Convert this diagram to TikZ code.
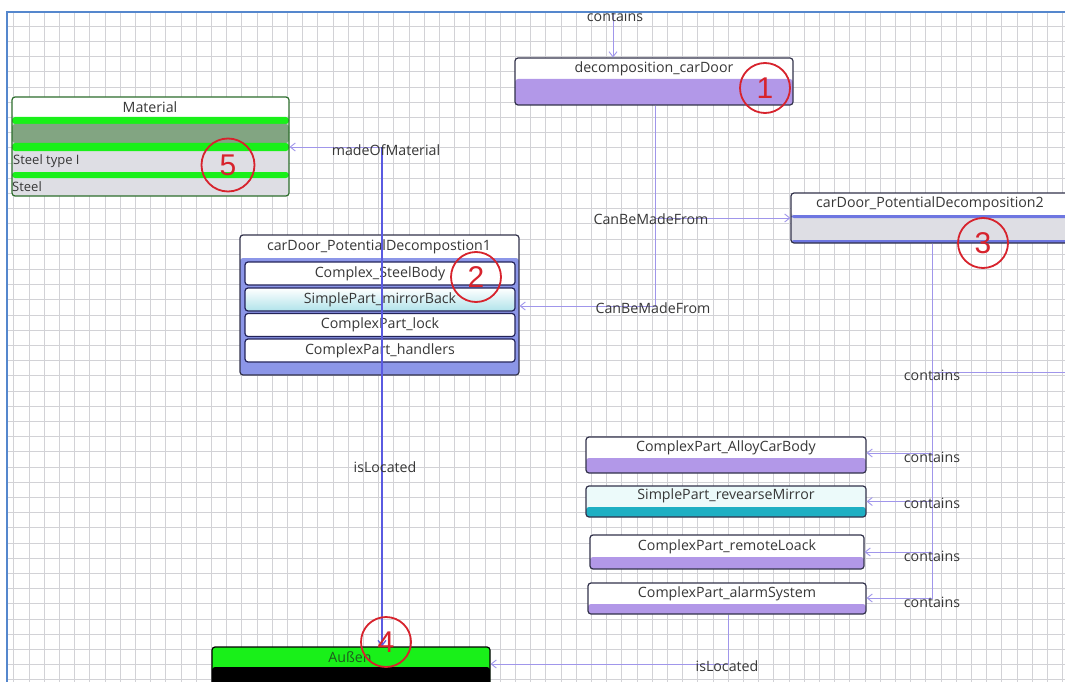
\documentclass[tikz,border=0pt]{standalone}
\usepackage{fontspec}
\setmainfont{Open Sans}
\newfontfamily\digitfont{Liberation Sans}
\usetikzlibrary{arrows.meta}

\definecolor{gridc}{RGB}{210,210,214}
\definecolor{framec}{RGB}{85,135,205}
\definecolor{edgec}{RGB}{160,150,235}
\definecolor{edgedark}{RGB}{90,90,225}
\definecolor{purplefill}{RGB}{178,152,232}
\definecolor{listblue}{RGB}{140,150,232}
\definecolor{stripblue}{RGB}{110,118,225}
\definecolor{greyfill}{RGB}{222,222,228}
\definecolor{brightgreen}{RGB}{25,240,25}
\definecolor{matgrey}{RGB}{130,165,130}
\definecolor{matline}{RGB}{45,110,45}
\definecolor{cyanfill}{RGB}{30,175,195}
\definecolor{cyanlight}{RGB}{236,250,250}
\definecolor{markred}{RGB}{215,35,45}
\definecolor{boxline}{RGB}{50,50,75}
\definecolor{itemline}{RGB}{35,35,90}
\definecolor{textc}{RGB}{55,55,55}
\definecolor{ausText}{RGB}{30,90,30}

\tikzset{
  box/.style={draw=boxline, line width=1.2pt, rounded corners=3pt, inner sep=0pt},
  splitbox/.style n args={2}{box, path picture={
      \fill[#1] (path picture bounding box.south west)
        rectangle ([yshift=#2]path picture bounding box.south east);}},
  item/.style={draw=itemline, line width=1.2pt, rounded corners=3pt, fill=white,
      minimum width=270pt, minimum height=23pt, inner sep=0pt,
      text=textc, font=\fontsize{14.2}{16}\selectfont},
  lbl/.style={inner sep=0pt, text=textc, font=\fontsize{14.2}{16}\selectfont},
  edge/.style={draw=edgec, line width=0.9pt, -{Straight Barb[length=5pt,width=8pt]}},
  edgeplain/.style={draw=edgec, line width=0.9pt},
  edgestrong/.style={draw=edgedark, line width=1.3pt, -{Straight Barb[length=5pt,width=8pt]}},
  redmark/.style={circle, draw=markred, line width=1.8pt, minimum size=50pt,
      inner sep=0pt, text=markred, font=\digitfont\fontsize{30}{30}\selectfont},
}

\begin{document}
\begin{tikzpicture}[x=1pt,y=-1pt]
\fill[white] (0,0) rectangle (1065,682);
\useasboundingbox (0,0) rectangle (1065,682);

\begin{scope}
\clip (7,12) rectangle (1065,682);

% background grid
\foreach \i in {0,...,70} \draw[gridc, line width=0.8pt] ({13.8+15.2*\i},12) -- ({13.8+15.2*\i},682);
\foreach \j in {0,...,45} \draw[gridc, line width=0.8pt] (7,{11+15.2*\j}) -- (1065,{11+15.2*\j});

% decomposition node
\node[splitbox={purplefill}{26pt}, fill=white, minimum width=278pt, minimum height=47pt] (carDoor) at (654,81.5) {};
\node[lbl] (carDoorT) at (654,68.5) {decomposition\_carDoor};

% material node
\node[box, draw=matline, fill=greyfill, minimum width=277pt, minimum height=99pt,
  path picture={
    \coordinate (pa) at (path picture bounding box.north west);
    \coordinate (pb) at (path picture bounding box.north east);
    \fill[white] (pa) rectangle ([yshift=-20pt]pb);
    \fill[brightgreen] ([yshift=-20pt]pa) rectangle ([yshift=-27pt]pb);
    \fill[matgrey] ([yshift=-27pt]pa) rectangle ([yshift=-46pt]pb);
    \fill[brightgreen] ([yshift=-46pt]pa) rectangle ([yshift=-54pt]pb);
    \fill[brightgreen] ([yshift=-75pt]pa) rectangle ([yshift=-81pt]pb);
  }] (mat) at (150.5,146.5) {};
\node[lbl] (matT) at (150,107.5) {Material};
\node[lbl, anchor=west, font=\fontsize{13}{15}\selectfont] (matA) at (13,161) {Steel type I};
\node[lbl, anchor=west, font=\fontsize{13}{15}\selectfont] (matB) at (12,187) {Steel};

% first potential decomposition with its parts
\node[splitbox={listblue}{117pt}, fill=white, minimum width=279pt, minimum height=140pt] (list1) at (379.5,305) {};
\node[lbl] (list1T) at (379,247) {carDoor\_PotentialDecompostion1};
\node[item] (i1) at (380,273.5) {Complex\_SteelBody};
\node[item, top color=white, bottom color=cyanfill!35] (i2) at (380,299.5) {SimplePart\_mirrorBack};
\node[item] (i3) at (380,325) {ComplexPart\_lock};
\node[item] (i4) at (380,350.5) {ComplexPart\_handlers};

% second potential decomposition
\node[box, fill=greyfill, minimum width=279pt, minimum height=50pt,
  path picture={
    \coordinate (qa) at (path picture bounding box.north west);
    \coordinate (qb) at (path picture bounding box.north east);
    \fill[white] (qa) rectangle ([yshift=-22pt]qb);
    \fill[stripblue] ([yshift=-22pt]qa) rectangle ([yshift=-25pt]qb);
    \fill[stripblue] ([yshift=-47pt]qa) rectangle ([yshift=-50pt]qb);
  }] (decomp2) at (930.5,218) {};
\node[lbl] (decomp2T) at (930,204) {carDoor\_PotentialDecomposition2};

% parts of the second decomposition
\node[splitbox={purplefill}{15pt}, fill=white, minimum width=280pt, minimum height=36pt] (p1) at (726,455) {};
\node[lbl] (p1T) at (726,447.5) {ComplexPart\_AlloyCarBody};
\node[splitbox={cyanfill}{10pt}, fill=cyanlight, minimum width=280pt, minimum height=31pt] (p2) at (726,501.5) {};
\node[lbl] (p2T) at (726,496) {SimplePart\_revearseMirror};
\node[splitbox={purplefill}{12pt}, fill=white, minimum width=274pt, minimum height=34pt] (p3) at (727,552) {};
\node[lbl] (p3T) at (727,547) {ComplexPart\_remoteLoack};
\node[splitbox={purplefill}{10pt}, fill=white, minimum width=278pt, minimum height=31pt] (p4) at (727,598.5) {};
\node[lbl] (p4T) at (727,594) {ComplexPart\_alarmSystem};

% location node
\node[splitbox={black}{23pt}, draw=black, fill=brightgreen, minimum width=278pt, minimum height=43pt] (aus) at (351,668.5) {};
\node[lbl, text=ausText] (ausT) at (350,657) {Außen};

% connectors
\coordinate (topIn) at (613,12);
\coordinate (offR) at (1080,372);
\coordinate (mOrigin) at (382,147);

\draw[edge] (topIn) -- (topIn |- carDoor.north);
\draw[edge] ([xshift=1pt]carDoor.south) |- (decomp2.west);
\draw[edge] ([xshift=1pt]carDoor.south) |- ([yshift=-1pt]list1.east);

\draw[edgeplain] ([xshift=1.5pt]decomp2.south) |- (offR);
\draw[edge] ([xshift=1.5pt]decomp2.south) |- ([yshift=2pt]p1.east);
\draw[edge] ([xshift=1.5pt]decomp2.south) |- (p2.east);
\draw[edge] ([xshift=1.5pt]decomp2.south) |- (p3.east);
\draw[edge] ([xshift=1.5pt]decomp2.south) |- ([yshift=0.5pt]p4.east);

\draw[edge] ([xshift=1pt]p4.south) |- ([yshift=4.5pt]aus.east);

\draw[edge] (mOrigin) -- (mat.east |- mOrigin);
\draw[edgestrong] (mOrigin) -- (mOrigin |- aus.north);

% connector labels
\node[lbl] (lTop) at (615,16) {contains};
\node[lbl] (lCan1) at (651,219) {CanBeMadeFrom};
\node[lbl] (lCan2) at (653,308) {CanBeMadeFrom};
\node[lbl] (lC0) at (932,375) {contains};
\node[lbl] (lC1) at (932,457) {contains};
\node[lbl] (lC2) at (932,503) {contains};
\node[lbl] (lC3) at (932,556) {contains};
\node[lbl] (lC4) at (932,602) {contains};
\node[lbl] (lLoc1) at (727,666) {isLocated};
\node[lbl] (lMat) at (386,150) {madeOfMaterial};
\node[lbl] (lLoc2) at (385,467) {isLocated};

% numbered markers
\node[redmark] (m1) at (765,88) {1};
\node[redmark] (m2) at (476,277) {2};
\node[redmark] (m3) at (983,243) {3};
\node[redmark] (m4) at (386,642) {4};
\node[redmark, minimum size=53pt] (m5) at (228,165) {5};
\end{scope}

% frame
\draw[framec, line width=1.6pt] (7,682) -- (7,12) -- (1065,12);
\end{tikzpicture}
\end{document}
